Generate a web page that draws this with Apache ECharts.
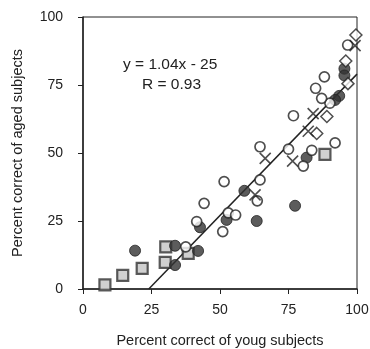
<!DOCTYPE html>
<html>
<head>
<meta charset="utf-8">
<script src="https://cdn.jsdelivr.net/npm/echarts@6/dist/echarts.min.js"></script>
<style>
html, body { margin: 0; padding: 0; background: #fff; }
#chart { width: 370px; height: 349px; }
</style>
</head>
<body>
<div id="chart"></div>
<script>
// axis ticks
const xTicks = [0, 25, 50, 75, 100]
const yTicks = [0, 25, 50, 75, 100]

// [young, aged] per marker type
const openCircles = [
    [37.5, 15.5], [41.5, 24.8], [44.2, 31.5], [51, 21.1], [51.5, 39.5], [53, 28],
    [55.7, 27.2], [63.6, 32.4], [64.6, 40.1], [64.6, 52.3], [75, 51.4], [76.8, 63.7],
    [80.4, 45.2], [83.5, 51], [92, 53.7], [84.9, 73.8], [88.1, 78], [90.1, 68.3],
    [87.1, 70.1], [96.6, 89.7]
]
const filledCircles = [
    [19, 14.1], [33.6, 8.8], [33.6, 15.9], [42, 14], [42.7, 22.7], [52.4, 25.4],
    [63.4, 25], [58.9, 36.1], [77.4, 30.6], [81.6, 48.3], [93.5, 71], [92, 69.5],
    [95.4, 81], [95.4, 78.5]
]
const grayBoxes = [
    [8, 1.5], [14.5, 5], [21.6, 7.6], [30.2, 15.5], [30, 9.8], [38.4, 13.1], [88.3, 49.5]
]
const diamonds = [
    [99.6, 93.4], [95.9, 83.8], [89, 63.4], [85.3, 57.2], [96.7, 75.5]
]
const crosses = [
    [66.5, 48], [76.5, 47], [62.8, 34.6], [82.2, 58], [84, 64.5], [99.3, 89.5]
]
// regression line end points
const fitLine = [[24, 0], [100, 79]]
const equation = 'y = 1.04x - 25'
const rValue = 'R = 0.93'

const chart = echarts.init(document.getElementById('chart'))
const ink = '#222'
const font = 'Liberation Sans, Arial, sans-serif'

chart.setOption({
    animation: false,
    textStyle: { fontFamily: font },
    grid: {
        left: 83, right: 13, top: 17, bottom: 60,
        outerBoundsMode: 'none',
        show: true, borderColor: ink, borderWidth: 1
    },
    xAxis: {
        type: 'value', min: xTicks[0], max: xTicks[xTicks.length - 1], interval: 25,
        name: 'Percent correct of youg subjects',
        nameLocation: 'middle', nameGap: 44,
        nameTextStyle: { color: ink, fontSize: 14.5, fontFamily: font },
        axisLine: { lineStyle: { color: ink, width: 1.5 } },
        axisTick: { show: true, length: 5, lineStyle: { color: ink } },
        axisLabel: { color: ink, fontSize: 14, margin: 14, fontFamily: font },
        splitLine: { show: false }
    },
    yAxis: {
        type: 'value', min: yTicks[0], max: yTicks[yTicks.length - 1], interval: 25,
        name: 'Percent correct of aged subjects',
        nameLocation: 'middle', nameGap: 58,
        nameTextStyle: { color: ink, fontSize: 14.5, fontFamily: font },
        axisLine: { show: true, lineStyle: { color: ink, width: 1.5 } },
        axisTick: { show: true, length: 5, lineStyle: { color: ink } },
        axisLabel: { color: ink, fontSize: 14, margin: 20, fontFamily: font },
        splitLine: { show: false }
    },
    graphic: [
        { type: 'text', left: 123, top: 57, style: { text: equation, font: '15.5px ' + font, fill: ink } },
        { type: 'text', left: 142, top: 77, style: { text: rValue, font: '15.5px ' + font, fill: ink } }
    ],
    series: [
        {
            type: 'line', data: fitLine, symbol: 'none', z: 1,
            lineStyle: { color: ink, width: 1.5 }
        },
        {
            type: 'scatter', data: grayBoxes, symbol: 'rect', symbolSize: 11, z: 2,
            itemStyle: { color: '#c4c4c4', borderColor: '#333', borderWidth: 2.2 }
        },
        {
            type: 'scatter', data: filledCircles, symbol: 'circle', symbolSize: 11, z: 3,
            itemStyle: { color: '#333', borderColor: '#222', borderWidth: 1 }
        },
        {
            type: 'scatter', data: openCircles, symbol: 'circle', symbolSize: 10, z: 4,
            itemStyle: { color: '#fff', borderColor: ink, borderWidth: 1.7 }
        },
        {
            type: 'scatter', data: diamonds, symbol: 'diamond', symbolSize: 12, z: 4,
            itemStyle: { color: '#fff', borderColor: ink, borderWidth: 1.5 }
        },
        {
            type: 'scatter', data: crosses, symbol: 'path://M0,0L10,10M10,0L0,10', symbolSize: 11, z: 5,
            itemStyle: { color: 'none', borderColor: ink, borderWidth: 1.6 }
        }
    ]
})
</script>
</body>
</html>
